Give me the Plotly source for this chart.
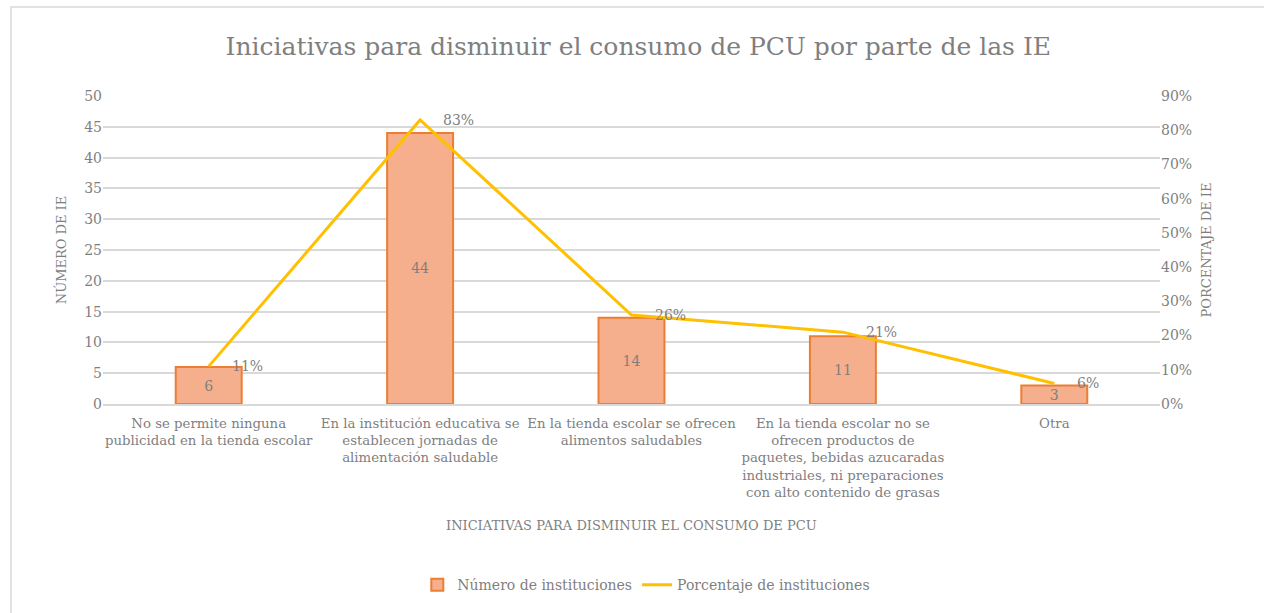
import plotly.graph_objects as go

categorias = [
    "No se permite ninguna<br>publicidad en la tienda escolar",
    "En la institución educativa se<br>establecen jornadas de<br>alimentación saludable",
    "En la tienda escolar se ofrecen<br>alimentos saludables",
    "En la tienda escolar no se<br>ofrecen productos de<br>paquetes, bebidas azucaradas<br>industriales, ni preparaciones<br>con alto contenido de grasas",
    "Otra",
]
numero_instituciones = [6, 44, 14, 11, 3]
porcentaje_instituciones = [0.11, 0.83, 0.26, 0.21, 0.06]

FONT = "DejaVu Serif"
GRIS = "#7F7F7F"

fig = go.Figure()

fig.add_trace(go.Bar(
    x=categorias,
    y=numero_instituciones,
    name="Número de instituciones",
    marker=dict(color="#F5AF8D", line=dict(color="#ED7D31", width=2)),
    width=0.312,
    text=[str(v) for v in numero_instituciones],
    textposition="inside",
    insidetextanchor="middle",
    textangle=0,
    constraintext="none",
    textfont=dict(family=FONT, size=14, color=GRIS),
    yaxis="y",
))

fig.add_trace(go.Scatter(
    x=categorias,
    y=porcentaje_instituciones,
    name="Porcentaje de instituciones",
    mode="lines",
    line=dict(color="#FFC000", width=3),
    yaxis="y2",
))

annotations = []
for c, p in zip(categorias, porcentaje_instituciones):
    annotations.append(dict(
        x=c, y=p, xref="x", yref="y2",
        text=f"{round(p * 100)}%",
        showarrow=False, xanchor="left", yanchor="middle",
        xshift=21, yshift=0,
        font=dict(family=FONT, size=14, color=GRIS),
    ))

annotations.append(dict(
    x=0.5, y=-0.396, xref="paper", yref="paper",
    text="INICIATIVAS PARA DISMINUIR EL CONSUMO DE PCU",
    showarrow=False, xanchor="center", yanchor="middle",
    font=dict(family=FONT, size=13, color=GRIS),
))

fig.update_layout(
    width=1264, height=613,
    paper_bgcolor="white", plot_bgcolor="white",
    margin=dict(l=103, r=104, t=96, b=209),
    font=dict(family=FONT, color=GRIS, size=14),
    title=dict(
        text="Iniciativas para disminuir el consumo de PCU por parte de las IE",
        x=0.505, xanchor="center", y=0.925, yanchor="middle",
        font=dict(family=FONT, size=25, color=GRIS),
    ),
    xaxis=dict(
        showgrid=False, showline=True, linecolor="#D9D9D9", linewidth=1.5,
        ticks="", tickangle=0, ticklabelstandoff=6,
        tickfont=dict(family=FONT, size=13.3, color=GRIS),
    ),
    yaxis=dict(
        range=[0, 50], dtick=5, showgrid=True, gridcolor="#D9D9D9", gridwidth=1.5,
        zeroline=False, ticks="", tickfont=dict(family=FONT, size=14, color=GRIS),
        title=dict(text="NÚMERO DE IE", font=dict(family=FONT, size=13, color=GRIS), standoff=14),
    ),
    yaxis2=dict(
        range=[0, 0.9], dtick=0.1, tickformat=".0%", overlaying="y", side="right",
        showgrid=False, zeroline=False, ticks="",
        tickfont=dict(family=FONT, size=14, color=GRIS),
        title=dict(text="PORCENTAJE DE IE", font=dict(family=FONT, size=13, color=GRIS), standoff=10),
    ),
    legend=dict(
        orientation="h", x=0.514, xanchor="center", y=-0.588, yanchor="middle",
        font=dict(family=FONT, size=14, color=GRIS),
    ),
    annotations=annotations,
    shapes=[dict(
        type="rect", xref="paper", yref="paper",
        x0=-0.087, x1=1.2, y0=-0.8, y1=1.289,
        line=dict(color="#D9D9D9", width=1.5), fillcolor="rgba(0,0,0,0)", layer="below",
    )],
)

fig.write_html("out.html")
